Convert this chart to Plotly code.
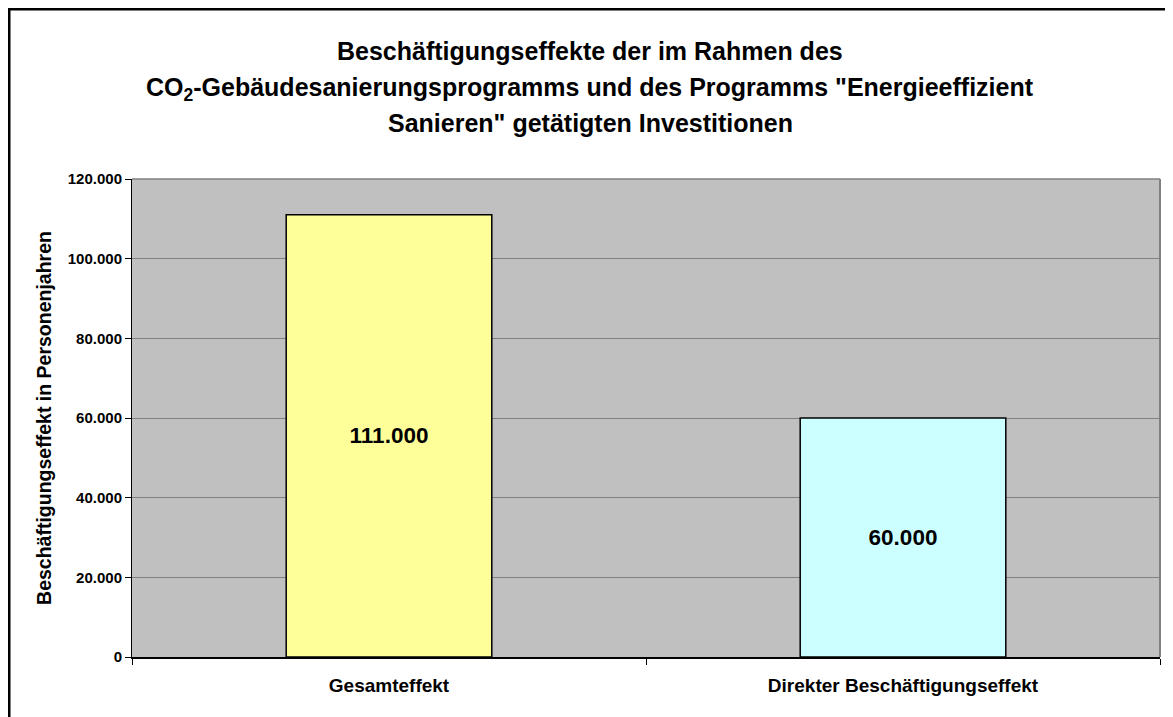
import plotly.graph_objects as go

categories = ["Gesamteffekt", "Direkter Beschäftigungseffekt"]
values = [111000, 60000]
bar_colors = ["#FFFF99", "#CCFFFF"]
y_ticks = [0, 20000, 40000, 60000, 80000, 100000, 120000]

title_lines = [
    "Beschäftigungseffekte der im Rahmen des",
    "CO<sub>2</sub>-Gebäudesanierungsprogramms und des Programms \"Energieeffizient",
    "Sanieren\" getätigten Investitionen",
]
y_title = "Beschäftigungseffekt in Personenjahren"

FONT = "Liberation Sans, Arial, Helvetica, sans-serif"
xpos = list(range(len(categories)))

# page body has an 8px margin; figure is sized to fit the viewport
W, H = 1165, 709
L, R, T, B = 124, 13, 171, 60
plot_w = W - L - R
plot_h = H - T - B

fig = go.Figure()
fig.add_trace(go.Bar(
    x=xpos, y=values, width=0.4,
    marker=dict(color=bar_colors, line=dict(color="black", width=1.5)),
    text=values, texttemplate="%{y:,d}", textposition="inside",
    insidetextanchor="middle",
    textfont=dict(family=FONT, size=22.5, color="black", weight="bold"),
    showlegend=False, hoverinfo="skip",
))

fig.update_layout(
    width=W, height=H,
    margin=dict(l=L, r=R, t=T, b=B),
    paper_bgcolor="white", plot_bgcolor="#C0C0C0",
    separators=",.",
    font=dict(family=FONT, color="black"),
    xaxis=dict(range=[-0.5, len(categories) - 0.5], tickmode="array", tickvals=xpos,
               ticktext=categories, ticks="", showgrid=False, zeroline=False,
               showline=True, linecolor="black", linewidth=2,
               ticklabelstandoff=10,
               tickfont=dict(family=FONT, size=19, color="black", weight="bold"),
               minor=dict(tickmode="array", tickvals=[-0.5, 0.5, 1.5], ticks="outside",
                          ticklen=6, tickcolor="black", tickwidth=1, showgrid=False),
               fixedrange=True),
    yaxis=dict(range=[0, 120000], tickmode="array", tickvals=y_ticks, tickformat=",d",
               ticks="outside", ticklen=6, tickcolor="black", tickwidth=1,
               showgrid=True, gridcolor="#808080", gridwidth=1, zeroline=False,
               showline=True, linecolor="black", linewidth=1,
               tickfont=dict(family=FONT, size=15, color="black", weight="bold"),
               title=dict(text=y_title, standoff=10,
                          font=dict(family=FONT, size=19.5, color="black", weight="bold")),
               fixedrange=True),
)

# title lines (centred on the whole chart)
title_x_px = 582
title_y_px = [43.5, 80.5, 115.5]
for line, ypx in zip(title_lines, title_y_px):
    fig.add_annotation(text=line, xref="paper", yref="paper",
                       x=(title_x_px - L) / plot_w,
                       y=(H - B - ypx) / plot_h, xanchor="center", yanchor="middle",
                       showarrow=False,
                       font=dict(family=FONT, size=25, color="black", weight="bold"))

# plot area right / top border (gray)
fig.add_shape(type="line", xref="x domain", yref="y domain", x0=1, x1=1, y0=0, y1=1,
              line=dict(color="#808080", width=2))
fig.add_shape(type="line", xref="x domain", yref="y domain", x0=0, x1=1, y0=1, y1=1,
              line=dict(color="#808080", width=1.5))
# outer chart border
fig.add_shape(type="rect", xref="paper", yref="paper",
              x0=(1 - L) / plot_w, x1=1.05, y0=-0.3, y1=(H - B - 1) / plot_h,
              line=dict(color="black", width=3), fillcolor="rgba(0,0,0,0)")

fig.write_html("out.html")
